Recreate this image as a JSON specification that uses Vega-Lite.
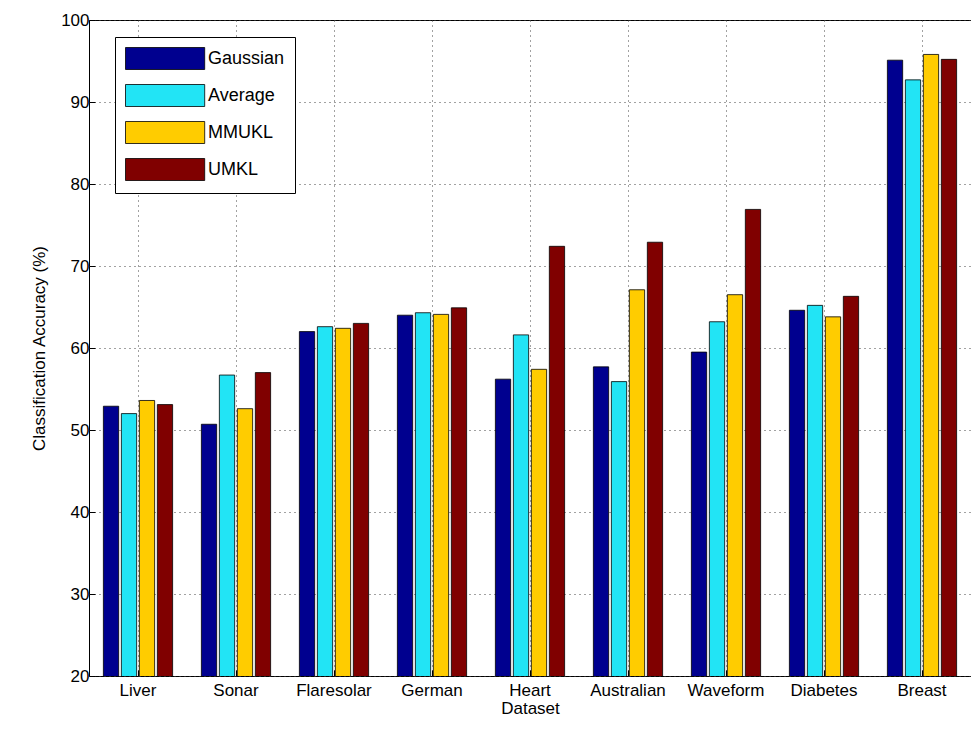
{
"$schema":"https://vega.github.io/schema/vega-lite/v6.json",
"width":882,"height":656,
"padding":{"left":30,"top":11,"right":0,"bottom":0},
"config":{"font":"Liberation Sans","view":{"stroke":"black","strokeWidth":1}},
"data":{"values":[
{"d":"Liver","m":"Gaussian","v":52.9},{"d":"Liver","m":"Average","v":52.0},{"d":"Liver","m":"MMUKL","v":53.6},{"d":"Liver","m":"UMKL","v":53.1},
{"d":"Sonar","m":"Gaussian","v":50.7},{"d":"Sonar","m":"Average","v":56.7},{"d":"Sonar","m":"MMUKL","v":52.6},{"d":"Sonar","m":"UMKL","v":57.0},
{"d":"Flaresolar","m":"Gaussian","v":62.0},{"d":"Flaresolar","m":"Average","v":62.6},{"d":"Flaresolar","m":"MMUKL","v":62.4},{"d":"Flaresolar","m":"UMKL","v":63.0},
{"d":"German","m":"Gaussian","v":64.0},{"d":"German","m":"Average","v":64.3},{"d":"German","m":"MMUKL","v":64.1},{"d":"German","m":"UMKL","v":64.9},
{"d":"Heart","m":"Gaussian","v":56.2},{"d":"Heart","m":"Average","v":61.6},{"d":"Heart","m":"MMUKL","v":57.4},{"d":"Heart","m":"UMKL","v":72.4},
{"d":"Australian","m":"Gaussian","v":57.7},{"d":"Australian","m":"Average","v":55.9},{"d":"Australian","m":"MMUKL","v":67.1},{"d":"Australian","m":"UMKL","v":72.9},
{"d":"Waveform","m":"Gaussian","v":59.5},{"d":"Waveform","m":"Average","v":63.2},{"d":"Waveform","m":"MMUKL","v":66.5},{"d":"Waveform","m":"UMKL","v":76.9},
{"d":"Diabetes","m":"Gaussian","v":64.6},{"d":"Diabetes","m":"Average","v":65.2},{"d":"Diabetes","m":"MMUKL","v":63.8},{"d":"Diabetes","m":"UMKL","v":66.3},
{"d":"Breast","m":"Gaussian","v":95.1},{"d":"Breast","m":"Average","v":92.7},{"d":"Breast","m":"MMUKL","v":95.8},{"d":"Breast","m":"UMKL","v":95.2}
]},
"mark":{"type":"bar","stroke":"black","strokeWidth":0.8,"clip":true},
"encoding":{
"x":{"field":"d","type":"nominal","sort":null,"scale":{"paddingInner":0,"paddingOuter":0},
"axis":{"title":"Dataset","labelAngle":0,"labelFontSize":17,"titleFontSize":17,"titleFontWeight":"normal","titlePadding":2,"labelColor":"black","titleColor":"black","domain":false,"ticks":true,"tickColor":"black","grid":true,"gridDash":[1,4],"gridColor":"#444","bandPosition":0.5,"labelPadding":12,"tickSize":-6}},
"xOffset":{"field":"m","type":"nominal","sort":["Gaussian","Average","MMUKL","UMKL"],"scale":{"paddingInner":0.15,"paddingOuter":0.8}},
"y":{"field":"v","type":"quantitative","scale":{"domain":[20,100],"nice":false},
"axis":{"title":"Classification Accuracy (%)","values":[20,30,40,50,60,70,80,90,100],"labelFontSize":17,"titleFontSize":17,"titleFontWeight":"normal","labelColor":"black","titleColor":"black","domain":false,"tickColor":"black","tickSize":-6,"labelPadding":6,"titlePadding":12,"grid":true,"gridDash":[1,4],"gridColor":"#444"}},
"color":{"field":"m","type":"nominal","sort":["Gaussian","Average","MMUKL","UMKL"],
"scale":{"domain":["Gaussian","Average","MMUKL","UMKL"],"range":["#00008F","#22E4F5","#FFCC00","#800000"]},
"legend":{"title":null,"orient":"none","legendX":26,"legendY":17,"labelFontSize":18,"labelColor":"black","symbolType":"M-1,-1H6.2V1H-1Z","symbolSize":484,"symbolStrokeColor":"black","symbolStrokeWidth":0.8,"symbolOpacity":1,"rowPadding":10,"labelOffset":60,"padding":10,"strokeColor":"black","fillColor":"white"}}
}
}
